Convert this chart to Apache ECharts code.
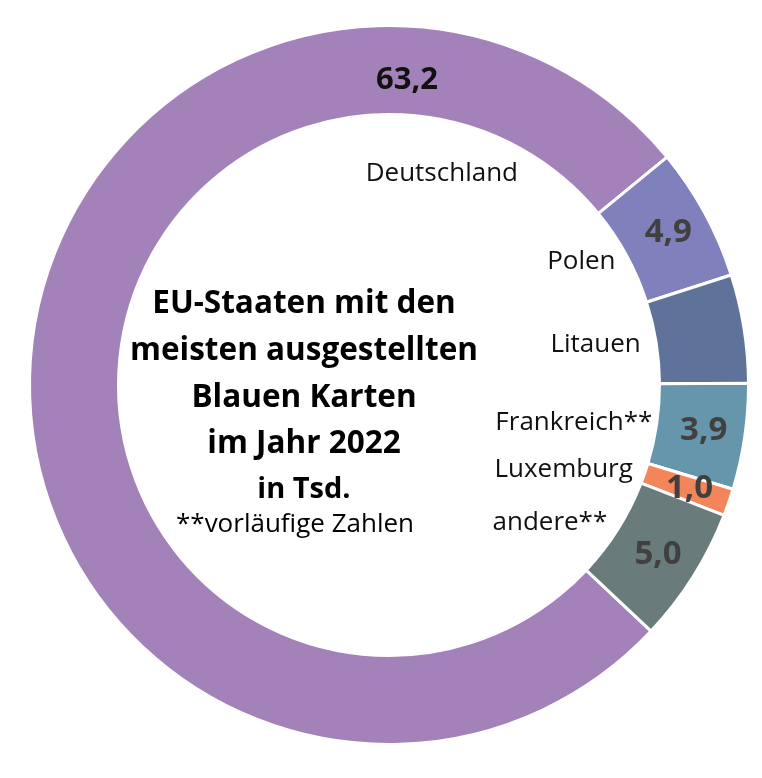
<!DOCTYPE html>
<html>
<head>
<meta charset="utf-8">
<script src="https://cdn.jsdelivr.net/npm/echarts@6/dist/echarts.min.js"></script>
<style>
html,body{margin:0;padding:0;background:#fff;}
#chart{width:762px;height:778px;}
</style>
</head>
<body>
<div id="chart"></div>
<script>
const categories = ['Deutschland', 'Polen', 'Litauen', 'Frankreich**', 'Luxemburg', 'andere**'];
const values = [63.2, 4.9, 4.0, 3.9, 1.0, 5.0];
const showValue = [true, true, false, true, true, true];
const colors = ['#A382BA', '#8080BD', '#5F7299', '#6596AC', '#F4845A', '#697C7B'];
const titleLines = ['EU-Staaten mit den', 'meisten ausgestellten', 'Blauen Karten', 'im Jahr 2022'];
const unitLine = 'in Tsd.';
const noteLine = '**vorläufige Zahlen';

const FONT = '"Open Sans", "Noto Sans", sans-serif';
const chart = echarts.init(document.getElementById('chart'));

const fmt = v => v.toFixed(1).replace('.', ',');

const valueData = categories.map((c, i) => ({
  name: c,
  value: values[i],
  itemStyle: { color: colors[i] },
  label: { show: showValue[i], color: i === 0 ? '#111111' : '#404040', fontSize: i === 0 ? 31 : 33 }
}));
const nameData = categories.map((c, i) => ({ name: c, value: values[i] }));

const titleY = [304, 351, 398, 444];
const graphics = titleLines.map((t, i) => ({
  type: 'text', x: 304, y: titleY[i],
  style: { text: t, font: 'bold 31.5px ' + FONT, fill: '#000', align: 'center', verticalAlign: 'middle' }
}));
graphics.push({ type: 'text', x: 304, y: 490, style: { text: unitLine, font: 'bold 29px ' + FONT, fill: '#000', align: 'center', verticalAlign: 'middle' } });
graphics.push({ type: 'text', x: 295, y: 525, style: { text: noteLine, font: '26px ' + FONT, fill: '#000', align: 'center', verticalAlign: 'middle' } });

chart.setOption({
  animation: false,
  backgroundColor: '#ffffff',
  graphic: graphics,
  series: [
    {
      type: 'pie',
      center: [389, 385],
      radius: [270.5, 359.5],
      startAngle: 316.8,
      clockwise: true,
      avoidLabelOverlap: false,
      silent: true,
      itemStyle: { borderColor: '#ffffff', borderWidth: 3 },
      label: {
        position: 'inside',
        formatter: p => fmt(p.value),
        fontFamily: FONT,
        fontWeight: 'bold'
      },
      labelLine: { show: false },
      labelLayout: function (p) {
        if (p.dataIndex === 0) return { x: 407, y: 80, align: 'center', verticalAlign: 'middle' };
        return {};
      },
      data: valueData
    },
    {
      type: 'pie',
      center: [389, 385],
      radius: [250, 260],
      startAngle: 316.8,
      clockwise: true,
      avoidLabelOverlap: false,
      silent: true,
      itemStyle: { color: 'rgba(0,0,0,0)', borderWidth: 0 },
      label: {
        position: 'inside',
        formatter: '{b}',
        fontFamily: FONT,
        fontSize: 26,
        color: '#111111'
      },
      labelLine: { show: false },
      labelLayout: function (p) {
        if (p.dataIndex === 0) return { x: 518, y: 174, align: 'right', verticalAlign: 'middle' };
        if (p.dataIndex === 2) return { dx: -3, align: 'right', verticalAlign: 'middle' };
        if (p.dataIndex === 3) return { dx: 8, align: 'right', verticalAlign: 'middle' };
        return { align: 'right', verticalAlign: 'middle' };
      },
      data: nameData
    }
  ]
});
</script>
</body>
</html>
